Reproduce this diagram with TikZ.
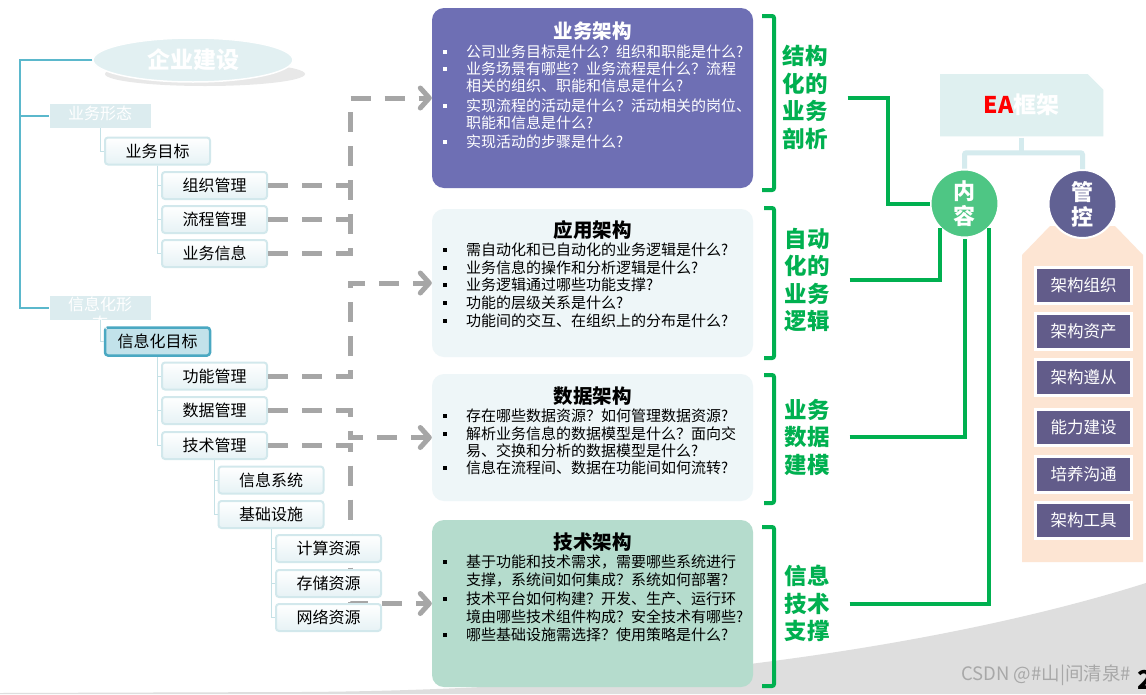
\documentclass[tikz,border=0pt]{standalone}
\usepackage{fontspec}
\setmainfont{Noto Sans CJK SC}
\usetikzlibrary{arrows.meta,shapes.misc,shapes.geometric}
\definecolor{cyanline}{HTML}{5BB8CC}
\definecolor{tline}{HTML}{C5E1E6}
\definecolor{tbdraw}{HTML}{D2E8EC}
\definecolor{tbfill}{HTML}{E6F2F5}
\definecolor{formfill}{HTML}{DCECEF}
\definecolor{goalfill}{HTML}{C2E2EA}
\definecolor{goaldraw}{HTML}{4AA8C2}
\definecolor{dashgray}{HTML}{A6A6A6}
\definecolor{purp}{HTML}{6E6FB4}
\definecolor{lightp}{HTML}{EEF6F8}
\definecolor{mint}{HTML}{B5DCCD}
\definecolor{grn}{HTML}{00B050}
\definecolor{nrgreen}{HTML}{4EC684}
\definecolor{gkpurp}{HTML}{616193}
\definecolor{eafill}{HTML}{DFF0F0}
\definecolor{eared}{HTML}{FF0000}
\definecolor{peach}{HTML}{FDE5D3}
\definecolor{pbox}{HTML}{625C8A}
\definecolor{swoosh}{HTML}{DEDEDE}
\definecolor{eaconn}{HTML}{D5EBEE}
\definecolor{ellfill}{HTML}{E2F0F2}
\definecolor{wmgray}{HTML}{A8A8A8}
\begin{document}
\begin{tikzpicture}[x=1pt,y=-1pt,
  treebox/.style={draw=tbdraw, line width=2pt, rounded corners=3pt, top color=white, bottom color=tbfill,
    minimum width=105pt, minimum height=27pt, inner sep=0pt, font=\fontsize{16}{18}\selectfont},
  formbox/.style={fill=formfill, minimum width=101pt, minimum height=24pt, inner sep=0pt},
  formtxt/.style={text=white, inner sep=0pt, align=center, font=\fontsize{16}{19}\selectfont},
  tconn/.style={draw=tline, line width=1pt},
  cconn/.style={draw=cyanline, line width=1.5pt},
  dashline/.style={draw=dashgray, line width=5pt, dash pattern=on 20pt off 14pt},
  dasharrow/.style={dashline, -{Straight Barb[length=9pt,width=20pt,round]}},
  panel/.style={rounded corners=12pt, minimum width=321pt, inner sep=0pt},
  ptitle/.style={inner sep=0pt, font=\fontsize{19.5}{22}\selectfont\bfseries},
  bl/.style={anchor=west, inner sep=0pt, font=\fontsize{15}{18}\selectfont},
  gbrack/.style={draw=grn, line width=4pt, rounded corners=2pt},
  glabel/.style={text=grn, inner sep=0pt, align=center, font=\fontsize{22.5}{27.5}\selectfont\bfseries},
  gline/.style={draw=grn, line width=4pt},
  circ/.style={circle, minimum size=68pt, inner sep=0pt, draw=white, line width=2pt, text=white, align=center,
    font=\fontsize{22}{25}\selectfont\bfseries},
  pbx/.style={fill=pbox, draw=white, line width=3pt, minimum width=96pt, minimum height=36pt, inner sep=0pt,
    text=white, font=\fontsize{16.5}{18}\selectfont},
]
\useasboundingbox (0,0) rectangle (1146,694);
\fill[white] (0,0) rectangle (1146,694);
% bottom swoosh
\fill[swoosh] (0,694) -- (0,693) -- (300,692) .. controls (650,690) and (950,645) .. (1146,583) -- (1146,694) -- cycle;

% ---------- left tree ----------
\fill[gray!30, opacity=0.6] (205,74) ellipse (100pt and 12pt);
\node[ellipse, fill=ellfill, draw=white, line width=1.5pt, minimum width=200pt, minimum height=44pt, inner sep=0pt,
  text=white, font=\fontsize{23}{26}\selectfont\bfseries] (qyjs) at (193,60) {企业建设};

\node[formbox] (ywxt) at (100,116) {};
\node[formtxt] (ywxtT) at (100,113) {业务形态};
\node[formbox] (xxxt) at (100,308) {};

\coordinate (vx) at (350,0);

\node[treebox] (ywmb) at (157.5,151) {业务目标};
\node[treebox] (zzgl) at (214.5,185.5) {组织管理};
\node[treebox] (lcgl) at (214.5,219.5) {流程管理};
\node[treebox] (ywxx) at (214.5,253.5) {业务信息};
\node[draw=goaldraw, fill=goalfill, line width=2.5pt, rounded corners=3pt, minimum width=105pt, minimum height=28pt,
  inner sep=0pt, font=\fontsize{16}{18}\selectfont] (xxmb) at (157.5,341.5) {信息化目标};
\node[formtxt] (xxxtT) at (100,314) {信息化形\\态};
\node[treebox] (gngl) at (214.5,376) {功能管理};
\node[treebox] (sjgl) at (214.5,410.5) {数据管理};
\node[treebox] (jsgl) at (214.5,445.5) {技术管理};

% panels
\node[panel, fill=purp, minimum height=180pt] (ywjg) at (592.5,98) {};
\node[panel, fill=lightp, minimum height=148pt] (yyjg) at (592.5,283) {};
\node[panel, fill=lightp, minimum height=127pt] (sjjg) at (592.5,437.5) {};
\node[panel, fill=mint, minimum height=167pt] (jsjg) at (592.5,603.5) {};

% dashed connectors
\draw[dashline] (zzgl.east) -- (zzgl.east -| vx);
\draw[dashline] (lcgl.east) -- (lcgl.east -| vx);
\draw[dasharrow] (ywxx.east) -- (ywxx.east -| vx) |- (ywjg.west);
\draw[dasharrow] (gngl.east) -- (gngl.east -| vx) |- (yyjg.west);
\draw[dasharrow] (sjgl.east) -- (sjgl.east -| vx) |- (sjjg.west);
\draw[dasharrow] (jsgl.east) -- (jsgl.east -| vx) |- (jsjg.west);

\node[treebox] (xxxt2) at (271,480) {信息系统};
\node[treebox] (jcss) at (271,514.5) {基础设施};
\node[treebox] (jszy) at (328.5,548.5) {计算资源};
\node[treebox] (cczy) at (328.5,583.5) {存储资源};
\node[treebox] (wlzy) at (328.5,617.5) {网络资源};

% tree lines
\draw[cconn] (qyjs.west) -- (20,60) -- (20,308) -- (xxxt.west);
\draw[cconn] (20,116) -- (ywxt.west);
\draw[tconn] (ywxt.south) |- (ywmb.west);
\draw[tconn] (ywmb.south) |- (zzgl.west);
\draw[tconn] (ywmb.south) |- (lcgl.west);
\draw[tconn] (ywmb.south) |- (ywxx.west);
\draw[tconn] (xxxt.south) |- (xxmb.west);
\draw[tconn] (xxmb.south) |- (gngl.west);
\draw[tconn] (xxmb.south) |- (sjgl.west);
\draw[tconn] (xxmb.south) |- (jsgl.west);
\draw[tconn] (jsgl.south) |- (xxxt2.west);
\draw[tconn] (jsgl.south) |- (jcss.west);
\draw[tconn] (jcss.south) |- (jszy.west);
\draw[tconn] (jcss.south) |- (cczy.west);
\draw[tconn] (jcss.south) |- (wlzy.west);

% ---------- panel texts ----------
\node[ptitle, text=white] (ywjgT) at (592.5,31) {业务架构};
\foreach \y/\txt/\b [count=\i] in {
  52/公司业务目标是什么？组织和职能是什么?/1,
  69/业务场景有哪些？业务流程是什么？流程/1,
  86/相关的组织、职能和信息是什么?/0,
  106/实现流程的活动是什么？活动相关的岗位、/1,
  123/职能和信息是什么?/0,
  142/实现活动的步骤是什么?/1}{
  \node[bl, text=white] (pa\i) at (466,\y) {\txt};
  \ifnum\b=1 \fill[white] (443,\y-2) rectangle (447,\y+2); \fi
}
\node[ptitle] (yyjgT) at (592.5,230) {应用架构};
\foreach \y/\txt/\b [count=\i] in {
  250/需自动化和已自动化的业务逻辑是什么?/1,
  268/业务信息的操作和分析逻辑是什么?/1,
  285/业务逻辑通过哪些功能支撑?/1,
  303/功能的层级关系是什么?/1,
  321/功能间的交互、在组织上的分布是什么?/1}{
  \node[bl] (pb\i) at (466,\y) {\txt};
  \ifnum\b=1 \fill[black] (443,\y-2) rectangle (447,\y+2); \fi
}
\node[ptitle] (sjjgT) at (592.5,396) {数据架构};
\foreach \y/\txt/\b [count=\i] in {
  416/存在哪些数据资源？如何管理数据资源?/1,
  434/解析业务信息的数据模型是什么？面向交/1,
  451/易、交换和分析的数据模型是什么?/0,
  468/信息在流程间、数据在功能间如何流转?/1}{
  \node[bl] (pc\i) at (466,\y) {\txt};
  \ifnum\b=1 \fill[black] (443,\y-2) rectangle (447,\y+2); \fi
}
\node[ptitle] (jsjgT) at (592.5,542) {技术架构};
\foreach \y/\txt/\b [count=\i] in {
  562/基于功能和技术需求，需要哪些系统进行/1,
  580/支撑，系统间如何集成？系统如何部署?/0,
  599/技术平台如何构建？开发、生产、运行环/1,
  617/境由哪些技术组件构成？安全技术有哪些?/0,
  635/哪些基础设施需选择？使用策略是什么?/1}{
  \node[bl] (pd\i) at (466,\y) {\txt};
  \ifnum\b=1 \fill[black] (443,\y-2) rectangle (447,\y+2); \fi
}

% ---------- green brackets and labels ----------
\draw[gbrack] (762,16) -- (774,16) -- (774,190) -- (762,190);
\draw[gbrack] (764,208) -- (774,208) -- (774,358) -- (764,358);
\draw[gbrack] (764,375) -- (774,375) -- (774,503) -- (764,503);
\draw[gbrack] (762,527) -- (774,527) -- (774,686) -- (762,686);
\node[glabel] (g1) at (805,97.5) {结构\\化的\\业务\\剖析};
\node[glabel] (g2) at (807,280) {自动\\化的\\业务\\逻辑};
\node[glabel] (g3) at (807,437) {业务\\数据\\建模};
\node[glabel] (g4) at (807,603.5) {信息\\技术\\支撑};

% ---------- EA framework ----------
\fill[peach] (1022,562) -- (1022,255) -- (1050,226) -- (1115,226) -- (1143,255) -- (1143,562) -- cycle;
\node[chamfered rectangle, chamfered rectangle corners=north east, chamfered rectangle xsep=8pt,
  chamfered rectangle ysep=8pt, fill=eafill, draw=white, line width=1.5pt, minimum width=165pt, minimum height=64pt,
  inner sep=0pt, text=white, font=\fontsize{23}{26}\selectfont\bfseries] (ea) at (1021.5,105) {{\color{eared}EA}框架};
\node[circ, fill=nrgreen] (neirong) at (964.5,203.5) {内\\容};
\node[circ, fill=gkpurp] (guankong) at (1082.5,204) {管\\控};
\draw[draw=eaconn, line width=5pt] (ea.south) -- ([yshift=-15pt]ea.south);
\draw[draw=eaconn, line width=5pt, rounded corners=2pt] (neirong.north) |- ([yshift=-15pt]ea.south) -| (guankong.north);

\draw[gline] ([xshift=20pt]g1.east) -- ++(40,0) |- (neirong.west);
\draw[gline] ([xshift=20pt]g2.east) -| (neirong.-135);
\draw[gline] ([xshift=20pt]g3.east) -| (neirong.south);
\draw[gline] ([xshift=20pt]g4.east) -| (neirong.-45);

\node[pbx] (b1) at (1083.5,285) {架构组织};
\node[pbx] (b2) at (1083.5,331) {架构资产};
\node[pbx] (b3) at (1083.5,377) {架构遵从};
\node[pbx] (b4) at (1083.5,427.5) {能力建设};
\node[pbx] (b5) at (1083.5,474) {培养沟通};
\node[pbx] (b6) at (1083.5,520.5) {架构工具};

% watermark and page number
\node[text=wmgray, inner sep=0pt, anchor=east, font=\fontsize{18.5}{21}\selectfont] (wm) at (1131,675) {CSDN @\#山|间清泉\#};
\node[anchor=west, inner sep=0pt, font=\fontsize{26}{28}\selectfont\bfseries] (pg) at (1137,680) {2};
\end{tikzpicture}
\end{document}
